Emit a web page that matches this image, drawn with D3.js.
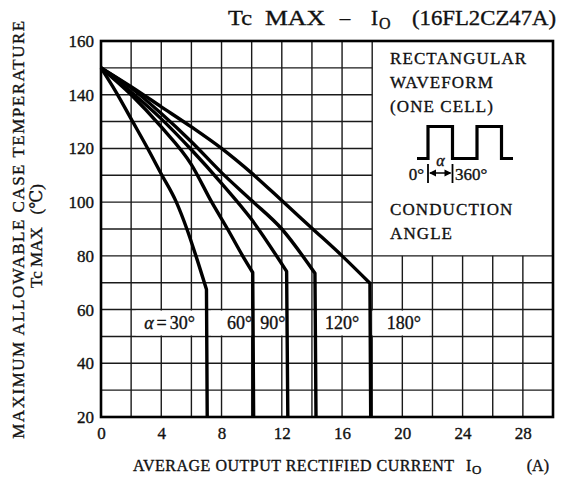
<!DOCTYPE html>
<html>
<head>
<meta charset="utf-8">
<script src="https://cdn.jsdelivr.net/npm/d3@7"></script>
<style>
	body { margin:0; background:#fff; }
	text { font-family:"Liberation Serif", "DejaVu Serif", serif; fill:#111; stroke:#111; stroke-width:0.35px; }
</style>
</head>
<body>
<script>

var width = 561, height = 479;

// data
var xTicks = [0, 4, 8, 12, 16, 20, 24, 28];
var yTicks = [20, 40, 60, 80, 100, 120, 140, 160];
var angleLabels = ["30°", "60°", "90°", "120°", "180°"];

var curve30  = [[0,150],[1,141],[2,131],[3,121],[4,110.5],[5,100],[5.7,90],[6.3,80],[7.0,67.5],[7.05,20]];
var curve60  = [[0,150],[2,140],[4,128],[6,114],[7.35,100],[8.4,90],[9.4,80],[10.07,73.8],[10.13,20]];
var curve90  = [[0,150],[2,141],[4,131],[6,119.5],[8,107],[10,93.5],[12.32,74.2],[12.4,20]];
var curve120 = [[0,150],[2,142.5],[4,133],[6,122.5],[8,111],[10,100.6],[12,90],[14.2,73.5],[14.27,20]];
var curve180 = [[0,150],[2,143],[4,135.5],[6,128],[8,120],[10,110.8],[12,100.6],[14,90.3],[16,80],[17.85,69.8],[17.9,20]];

var curves = [curve30, curve60, curve90, curve120, curve180];

//****************************************************************************************************************************//
// Canvas and scales

var canvas = d3.select("body").append("svg")
				.attr("width", width)
				.attr("height", height);

var x = d3.scaleLinear().domain([0, 30]).range([101, 553]);
var y = d3.scaleLinear().domain([20, 160]).range([417, 41]);

var legendFrom = 18, legendBottom = 80;

//****************************************************************************************************************************//
// Grid

var grid = canvas.append("g")
				.attr("stroke", "#1a1a1a")
				.attr("stroke-width", 1.4);

d3.range(2, 30, 2).forEach(function(v){
	grid.append("line")
		.attr("x1", x(v)).attr("x2", x(v))
		.attr("y1", y(20))
		.attr("y2", v >= legendFrom ? y(legendBottom) : y(160));
});

d3.range(30, 160, 10).forEach(function(t){
	grid.append("line")
		.attr("y1", y(t)).attr("y2", y(t))
		.attr("x1", x(0))
		.attr("x2", t > legendBottom ? x(legendFrom) : x(30));
});

// legend box edge
grid.append("line")
	.attr("x1", x(legendFrom)).attr("x2", x(legendFrom))
	.attr("y1", y(legendBottom)).attr("y2", y(160));

//****************************************************************************************************************************//
// Label backgrounds (hide grid behind the angle labels)

var labelAt = [4.55, 9.2, 11.4, 16.0, 20.1];
var labelBoxes = [[2.3, 6.95], [7.3, 10.0], [10.25, 12.3], [14.4, 17.8], [18.0, 21.8]];

labelBoxes.forEach(function(b){
	canvas.append("rect")
		.attr("x", x(b[0]))
		.attr("y", y(60) + 1)
		.attr("width", x(b[1]) - x(b[0]))
		.attr("height", y(50) - y(60) - 2)
		.attr("fill", "white");
});

//****************************************************************************************************************************//
// Curves : smooth sloped part, then the straight vertical drop

var slope = d3.line()
			.x(function(d){ return x(d[0]); })
			.y(function(d){ return y(d[1]); })
			.curve(d3.curveMonotoneX);

canvas.append("g")
	.selectAll("path")
	.data(curves)
	.enter().append("path")
		.attr("d", function(c){
			var last = c[c.length - 1];
			return slope(c.slice(0, -1)) + "L" + x(last[0]) + "," + y(last[1]);
		})
		.attr("fill", "none")
		.attr("stroke", "#000")
		.attr("stroke-width", 3.4)
		.attr("stroke-linejoin", "round");

//****************************************************************************************************************************//
// Frame

canvas.append("rect")
	.attr("x", x(0))
	.attr("y", y(160))
	.attr("width", x(30) - x(0))
	.attr("height", y(20) - y(160))
	.attr("fill", "none")
	.attr("stroke", "#000")
	.attr("stroke-width", 2.6);

//****************************************************************************************************************************//
// Axes

var xAxis = canvas.append("g")
				.attr("transform", "translate(0," + y(20) + ")")
				.call(d3.axisBottom(x).tickValues(xTicks).tickSize(0).tickPadding(10));

var yAxis = canvas.append("g")
				.attr("transform", "translate(" + x(0) + ",0)")
				.call(d3.axisLeft(y).tickValues(yTicks).tickSize(0).tickPadding(7));

[xAxis, yAxis].forEach(function(a){
	a.select(".domain").remove();
	a.selectAll("text")
		.style("font-family", "'Liberation Serif', serif")
		.style("font-size", "17px")
		.attr("fill", "#111");
});

//****************************************************************************************************************************//
// Angle labels

angleLabels.forEach(function(s, i){
	var t = canvas.append("text")
				.attr("x", x(labelAt[i]))
				.attr("y", (y(60) + y(50)) / 2 + 6)
				.attr("text-anchor", "middle")
				.style("font-size", "18px");
	if (i == 0) {
		t.append("tspan").style("font-style", "italic").text("α");
		t.append("tspan").attr("dx", 3).text("=");
		t.append("tspan").attr("dx", 3).text(s);
	} else {
		t.append("tspan").text(s);
	}
});

//****************************************************************************************************************************//
// Legend text and waveform

var legend = canvas.append("g");
var legendLines = [["RECTANGULAR", 64], ["WAVEFORM", 88], ["(ONE CELL)", 112], ["CONDUCTION", 215], ["ANGLE", 239]];

legendLines.forEach(function(l){
	legend.append("text")
		.attr("x", 390)
		.attr("y", l[1])
		.style("font-size", "17px")
		.style("letter-spacing", "1.1px")
		.text(l[0]);
});

var waveX = [417, 428, 452.5, 477, 501.5, 513];
var waveTop = 126.5, waveBase = 158.5;

legend.append("path")
	.attr("d", "M" + waveX[0] + "," + waveBase +
			"H" + waveX[1] + "V" + waveTop + "H" + waveX[2] + "V" + waveBase +
			"H" + waveX[3] + "V" + waveTop + "H" + waveX[4] + "V" + waveBase + "H" + waveX[5])
	.attr("fill", "none")
	.attr("stroke", "#000")
	.attr("stroke-width", 3.2);

// conduction angle marker
[waveX[1], waveX[2]].forEach(function(px){
	legend.append("line")
		.attr("x1", px).attr("x2", px)
		.attr("y1", 164).attr("y2", 183)
		.attr("stroke", "#000").attr("stroke-width", 1.8);
});
legend.append("line")
	.attr("x1", waveX[1] + 2).attr("x2", waveX[2] - 2)
	.attr("y1", 173).attr("y2", 173)
	.attr("stroke", "#000").attr("stroke-width", 1.5);
legend.append("path")
	.attr("d", "M" + (waveX[1] + 1) + ",173l7,-3.5v7z M" + (waveX[2] - 1) + ",173l-7,-3.5v7z")
	.attr("fill", "#000");

legend.append("text")
	.attr("x", 440.5).attr("y", 166)
	.attr("text-anchor", "middle")
	.style("font-size", "16px")
	.style("font-style", "italic")
	.text("α");
legend.append("text")
	.attr("x", 424).attr("y", 180)
	.attr("text-anchor", "end")
	.style("font-size", "17px")
	.text("0°");
legend.append("text")
	.attr("x", 455).attr("y", 180)
	.style("font-size", "17px")
	.text("360°");

//****************************************************************************************************************************//
// Titles

var titleY = 25;
canvas.append("text").attr("x", 228).attr("y", titleY).style("font-size", "21px")
	.attr("textLength", 24).attr("lengthAdjust", "spacingAndGlyphs").text("Tc");
canvas.append("text").attr("x", 265).attr("y", titleY).style("font-size", "21px")
	.attr("textLength", 60).attr("lengthAdjust", "spacingAndGlyphs").text("MAX");
canvas.append("text").attr("x", 345).attr("y", titleY).attr("text-anchor", "middle").style("font-size", "21px").text("–");
canvas.append("text").attr("x", 371).attr("y", titleY).style("font-size", "21px").text("I");
canvas.append("text").attr("x", 379).attr("y", titleY + 4).style("font-size", "16px").text("O");
canvas.append("text").attr("x", 412).attr("y", titleY).style("font-size", "21px")
	.attr("textLength", 144).attr("lengthAdjust", "spacingAndGlyphs").text("(16FL2CZ47A)");

var xTitleY = 471;
canvas.append("text").attr("x", 133).attr("y", xTitleY)
	.style("font-size", "16px").style("letter-spacing", "0.5px")
	.text("AVERAGE OUTPUT RECTIFIED CURRENT");
canvas.append("text").attr("x", 466).attr("y", xTitleY).style("font-size", "16px").text("I");
canvas.append("text").attr("x", 472).attr("y", xTitleY + 3).style("font-size", "13px").text("O");
canvas.append("text").attr("x", 549).attr("y", xTitleY).attr("text-anchor", "end")
	.style("font-size", "16px").text("(A)");

canvas.append("text")
	.attr("transform", "translate(24,229) rotate(-90)")
	.attr("text-anchor", "middle")
	.style("font-size", "17px")
	.style("letter-spacing", "1.5px")
	.text("MAXIMUM ALLOWABLE CASE TEMPERATURE");

canvas.append("text")
	.attr("transform", "translate(42,236) rotate(-90)")
	.attr("text-anchor", "middle")
	.style("font-size", "17px")
	.attr("xml:space", "preserve")
	.text("Tc MAX   (℃)");

</script>
</body>
</html>
